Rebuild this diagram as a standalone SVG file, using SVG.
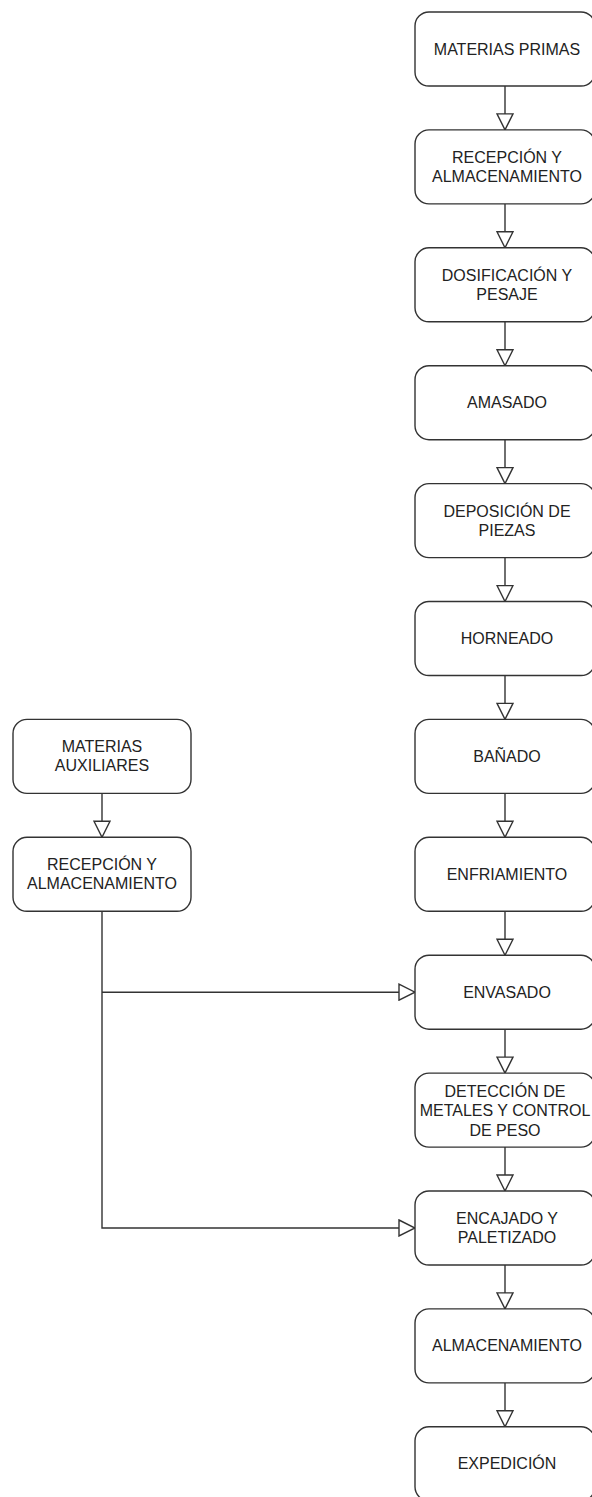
<svg xmlns="http://www.w3.org/2000/svg" width="592" height="1497" viewBox="0 0 592 1497">
<style>
.n{fill:#fff;stroke:#333;stroke-width:1.4}
.t{font-family:"Liberation Sans",Arial,sans-serif;font-size:16px;fill:#222;text-anchor:middle}
.c{fill:none;stroke:#333;stroke-width:1.4;marker-end:url(#a)}
</style>
<defs>
<marker id="a" markerUnits="userSpaceOnUse" markerWidth="18" markerHeight="18" refX="16" refY="8" orient="auto" viewBox="-1 -1 18 18">
<path d="M0,0 L16,8 L0,16 Z" fill="#fff" stroke="#333" stroke-width="1.4"/>
</marker>
</defs>
<rect width="592" height="1497" fill="#fff"/>
<g id="connectors">
<path class="c" d="M505,86 V129.9"/>
<path class="c" d="M505,203.9 V247.8"/>
<path class="c" d="M505,321.8 V365.7"/>
<path class="c" d="M505,439.7 V483.6"/>
<path class="c" d="M505,557.6 V601.5"/>
<path class="c" d="M505,675.5 V719.4"/>
<path class="c" d="M505,793.4 V837.3"/>
<path class="c" d="M505,911.3 V955.2"/>
<path class="c" d="M505,1029.2 V1073.1"/>
<path class="c" d="M505,1147.1 V1191"/>
<path class="c" d="M505,1265 V1308.9"/>
<path class="c" d="M505,1382.9 V1426.8"/>
<path class="c" d="M102,793.4 V837.3"/>
<path class="c" d="M102,992.2 H415"/>
<path class="c" d="M102,911.3 V1228 H415"/>
</g>
<g id="n1"><rect class="n" x="415" y="12" width="180" height="74" rx="14"/><text class="t" x="507" y="54.5">MATERIAS PRIMAS</text></g>
<g id="n2"><rect class="n" x="415" y="129.9" width="180" height="74" rx="14"/><text class="t" x="507" y="162.9">RECEPCIÓN Y</text><text class="t" x="507" y="181.9">ALMACENAMIENTO</text></g>
<g id="n3"><rect class="n" x="415" y="247.8" width="180" height="74" rx="14"/><text class="t" x="507" y="280.8">DOSIFICACIÓN Y</text><text class="t" x="507" y="299.8">PESAJE</text></g>
<g id="n4"><rect class="n" x="415" y="365.7" width="180" height="74" rx="14"/><text class="t" x="507" y="408.2">AMASADO</text></g>
<g id="n5"><rect class="n" x="415" y="483.6" width="180" height="74" rx="14"/><text class="t" x="507" y="516.6">DEPOSICIÓN DE</text><text class="t" x="507" y="535.6">PIEZAS</text></g>
<g id="n6"><rect class="n" x="415" y="601.5" width="180" height="74" rx="14"/><text class="t" x="507" y="644">HORNEADO</text></g>
<g id="n7"><rect class="n" x="415" y="719.4" width="180" height="74" rx="14"/><text class="t" x="507" y="761.9">BAÑADO</text></g>
<g id="n8"><rect class="n" x="415" y="837.3" width="180" height="74" rx="14"/><text class="t" x="507" y="879.8">ENFRIAMIENTO</text></g>
<g id="n9"><rect class="n" x="415" y="955.2" width="180" height="74" rx="14"/><text class="t" x="507" y="997.7">ENVASADO</text></g>
<g id="n10"><rect class="n" x="415" y="1073.1" width="180" height="74" rx="14"/><text class="t" x="505" y="1096.6">DETECCIÓN DE</text><text class="t" x="505" y="1116.1">METALES Y CONTROL</text><text class="t" x="505" y="1135.6">DE PESO</text></g>
<g id="n11"><rect class="n" x="415" y="1191" width="180" height="74" rx="14"/><text class="t" x="507" y="1224">ENCAJADO Y</text><text class="t" x="507" y="1243">PALETIZADO</text></g>
<g id="n12"><rect class="n" x="415" y="1308.9" width="180" height="74" rx="14"/><text class="t" x="507" y="1351.4">ALMACENAMIENTO</text></g>
<g id="n13"><rect class="n" x="415" y="1426.8" width="180" height="74" rx="14"/><text class="t" x="507" y="1469.3">EXPEDICIÓN</text></g>
<g id="n14"><rect class="n" x="13" y="719.4" width="178" height="74" rx="14"/><text class="t" x="102" y="752.4">MATERIAS</text><text class="t" x="102" y="771.4">AUXILIARES</text></g>
<g id="n15"><rect class="n" x="13" y="837.3" width="178" height="74" rx="14"/><text class="t" x="102" y="870.3">RECEPCIÓN Y</text><text class="t" x="102" y="889.3">ALMACENAMIENTO</text></g>
</svg>
